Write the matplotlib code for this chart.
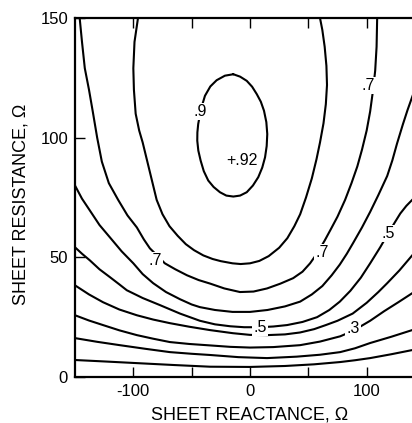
import matplotlib
matplotlib.use("Agg")
import matplotlib.pyplot as plt

plt.rcParams['font.family'] = ['Liberation Sans', 'DejaVu Sans']

# ---- contour lines: (sheet reactance X, sheet resistance R)
c90_x = [-14.3, -8.5, -2.8, 1.8, 5.8, 9.3, 12.0, 14.0, 14.8, 14.3, 12.9, 10.5, 7.1, 2.5, -2.8, -8.5, -14.3,
         -20.3, -25.75, -31.2, -35.8, -39.6, -42.3, -44.3, -45.2, -45.1, -44.4, -42.0, -38.6, -34.0, -28.6, -21.5, -14.3]
c90_r = [126.5, 125.5, 123.75, 121.3, 118.2, 115.0, 111.25, 106.5, 101.5, 96.5, 91.8, 87.5, 83.5, 80.0, 77.2, 75.8, 75.4,
         75.8, 77.2, 79.4, 82.1, 86.0, 90.4, 94.6, 98.75, 102.2, 105.7, 112.0, 117.5, 121.4, 124.0, 125.9, 126.5]

c80_x = [-96, -99, -100, -99.5, -98, -95, -92, -88, -84, -80, -75, -69, -62, -55, -48, -40, -32, -25, -15, -8, 0,
         8, 16, 25, 32, 38, 43, 48, 53, 57, 60, 63, 65, 66, 65.5, 64, 62, 60]
c80_r = [150, 140, 129, 120, 110, 103, 98, 90, 82, 74, 68, 63, 59, 55.5, 53, 50.8, 49.3, 48.4, 47.5, 47.2, 47.5,
         48.5, 50.5, 54, 58, 63, 68, 75, 83, 91, 98, 106, 114, 122, 130, 138, 145, 150]

c70_x = [-146, -144, -141.6, -138, -134.8, -131, -127, -121, -113, -105, -97, -91, -85.8, -79, -73, -64, -54, -44, -34,
         -22, -8.6, 3, 14.6, 26, 37, 45, 51.5, 58, 64, 69, 75, 81.5, 87, 92, 96, 100, 103, 105.5, 107.3, 108.5, 109]
c70_r = [150, 140, 129, 120, 111, 100, 90, 81, 74, 67.5, 62.5, 57.5, 53.75, 50.5, 47.5, 45, 42.5, 40.5, 39,
         37, 35.5, 35.7, 37, 39, 41.3, 44, 47.5, 52, 57, 61.5, 67, 74, 81, 88, 95, 103, 111, 120, 128, 138, 150]

c60_x = [-150, -144, -137.3, -129, -120, -110, -100, -92, -83, -72, -60, -50, -43, -30, -15, 0, 15, 30, 43, 53, 62,
         70, 77, 83, 88.4, 96, 103, 110, 117.6, 122, 126, 131, 135, 139, 142]
c60_r = [80, 74.5, 69.6, 63.5, 58.3, 52.5, 47.5, 43, 39.2, 35.5, 32.5, 30.3, 29.2, 28, 27.2, 27.2, 28, 29.5, 31.5, 34.5, 38,
         42.5, 47, 51.5, 56, 62.5, 69, 76, 84, 90.5, 97.5, 105.5, 111.5, 117, 121]

c50_x = [-150, -144, -137.3, -129, -120, -112, -105.6, -92, -77, -60, -43, -30, -17, -5, 8.6, 20, 31.8, 45, 57.5, 68,
         77, 86, 95, 103, 111.6, 118.5, 124, 128.8, 134, 139, 142]
c50_r = [54.2, 51.5, 48.75, 45, 41.7, 38.7, 36.25, 33, 30, 26.5, 23.5, 22, 21.2, 20.8, 20.8, 21.1, 21.7, 23, 25, 28,
         31.5, 36, 41.5, 47.5, 54.2, 60, 64.5, 68.3, 71.5, 74, 75.5]

c40_x = [-150, -138, -126, -112, -97, -83, -68.7, -52, -34.3, -14.6, 0, 14.6, 30, 42.9, 55, 65, 75, 88, 100, 110,
         117.6, 128, 139, 142]
c40_r = [38.3, 34.5, 31.25, 28.2, 25.8, 24, 22.5, 21, 19.6, 18.3, 17.6, 17.5, 17.8, 18.6, 20, 21.7, 23.5, 26.5, 31, 35.5,
         39.2, 44.5, 50.8, 52.5]

c30_x = [-150, -138, -126, -112, -97, -83, -68.7, -52, -34.3, -17, 0, 20, 42.9, 60, 77.3, 88.4, 103, 115, 127, 139, 142]
c30_r = [25.8, 23.6, 21.7, 19.5, 17.5, 16, 14.6, 13.8, 13.2, 12.6, 12.3, 12.5, 13.3, 14.8, 17, 19.3, 23.5, 27.5, 31.2, 35, 36]

c20_x = [-150, -131, -111.6, -90, -68.7, -50, -34.3, -10, 14.6, 40, 60, 77.3, 90, 103, 121, 139, 142]
c20_r = [16.25, 14.7, 13.3, 11.8, 10.4, 9.7, 9.2, 8.3, 7.9, 8.5, 9.3, 10.4, 12, 14.2, 16.8, 19.6, 20.1]

c10_x = [-150, -125, -97, -65, -34.3, 0, 30, 55, 77.3, 90, 103, 121, 139, 142]
c10_r = [7.1, 6.5, 5.8, 5.0, 4.3, 4.2, 4.6, 5.3, 6.25, 7.0, 7.9, 9.5, 11.25, 11.5]

contours = [
    (c90_x, c90_r), (c80_x, c80_r), (c70_x, c70_r), (c60_x, c60_r), (c50_x, c50_r),
    (c40_x, c40_r), (c30_x, c30_r), (c20_x, c20_r), (c10_x, c10_r),
]

# contour labels: (text, X, R)
label_text = ['.9', '+.92', '.7', '.7', '.7', '.5', '.5', '.3']
label_x = [-43, -7, -81.5, 61.8, 101, 8.6, 118.5, 88.4]
label_r = [111, 90.5, 48.5, 52, 121.7, 20.8, 60, 20.4]

x_ticks = [-100, -50, 0, 50, 100]
x_ticklabels = ['-100', '', '0', '', '100']
y_ticks = [0, 50, 100, 150]
y_ticklabels = ['0', '50', '100', '150']

fig = plt.figure(figsize=(4.12, 4.23), dpi=100)
ax = fig.add_axes([75 / 412, 46 / 423, 350 / 412, 359 / 423])

for xs, rs in contours:
    ax.plot(xs, rs, color='black', lw=1.5, solid_capstyle='round', solid_joinstyle='round', clip_on=True)

for t, x, r in zip(label_text, label_x, label_r):
    ax.text(x, r, t, ha='center', va='center', fontsize=11.5,
            bbox=dict(facecolor='white', edgecolor='none', pad=0.8), zorder=5)

ax.set_xlim(-150, 150)
ax.set_ylim(0, 150)
ax.set_xticks(x_ticks)
ax.set_xticklabels(x_ticklabels)
ax.set_yticks(y_ticks)
ax.set_yticklabels(y_ticklabels)
ax.tick_params(direction='in', top=True, right=True, length=7, width=1.0, labelsize=12, pad=5)
for s in ax.spines.values():
    s.set_linewidth(1.6)

ax.set_xlabel('SHEET REACTANCE, Ω', fontsize=13, labelpad=5.5)
ax.set_ylabel('SHEET RESISTANCE, Ω', fontsize=13)
ax.yaxis.set_label_coords(-0.131, 0.482)

fig.savefig('out.png', dpi=100)
